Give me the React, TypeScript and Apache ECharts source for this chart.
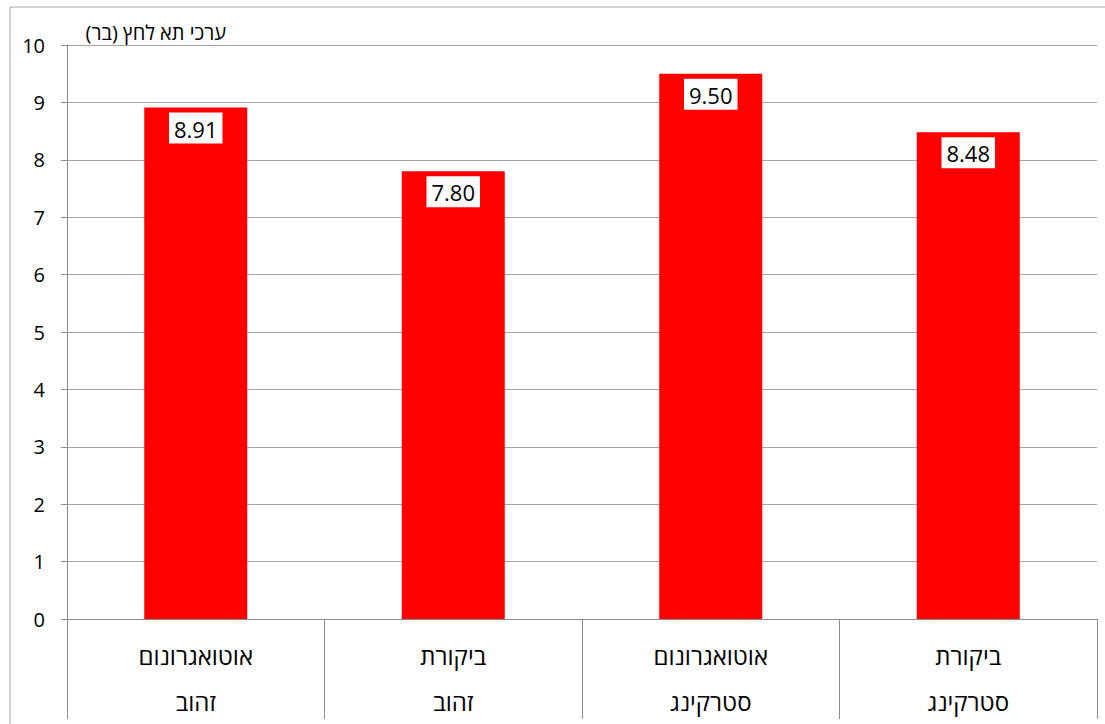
import React, { useEffect, useRef } from "react";
import * as echarts from "echarts";

const categories = [
  "אוטואגרונום\nזהוב",
  "ביקורת\nזהוב",
  "אוטואגרונום\nסטרקינג",
  "ביקורת\nסטרקינג",
];
const values = [8.91, 7.8, 9.5, 8.48];
const yAxisTitle = "ערכי תא לחץ (בר)";

export default function App() {
  const ref = useRef<HTMLDivElement>(null);
  useEffect(() => {
    if (!ref.current) return;
    const chart = echarts.init(ref.current, null, {
      renderer: "svg",
      width: 1105,
      height: 724,
    });
    const font = "'Open Sans', Arial, sans-serif";
    chart.setOption({
      animation: false,
      backgroundColor: "#ffffff",
      textStyle: { fontFamily: font },
      grid: { left: 67, top: 45, width: 1030, height: 579, containLabel: false },
      graphic: [
        {
          type: "rect",
          shape: { x: 10, y: 7, width: 1200, height: 800 },
          style: { fill: "none", stroke: "#a6a6a6", lineWidth: 1 },
          silent: true,
          z: -10,
        },
        {
          type: "text",
          x: 226,
          y: 32,
          style: {
            text: yAxisTitle,
            fill: "#000",
            font: `20px ${font}`,
            textAlign: "right",
            textVerticalAlign: "middle",
          },
        },
      ],
      xAxis: {
        type: "category",
        data: categories,
        axisLine: { show: true, lineStyle: { color: "#8c8c8c", width: 1 } },
        axisTick: { show: true, length: 100, lineStyle: { color: "#8c8c8c" } },
        axisLabel: {
          color: "#000",
          fontSize: 24,
          lineHeight: 46,
          margin: 13,
          fontFamily: font,
        },
        splitLine: { show: false },
      },
      yAxis: {
        type: "value",
        min: 0,
        max: 10,
        interval: 1,
        axisLine: { show: true, lineStyle: { color: "#8c8c8c", width: 1 } },
        axisTick: { show: true, length: 6, lineStyle: { color: "#8c8c8c" } },
        axisLabel: { color: "#000", fontSize: 20, margin: 22, fontFamily: font },
        splitLine: { show: true, lineStyle: { color: "#a6a6a6", width: 1 } },
      },
      series: [
        {
          type: "bar",
          data: values,
          barWidth: "40%",
          itemStyle: { color: "#ff0000" },
          label: {
            show: true,
            position: "insideTop",
            distance: 5,
            backgroundColor: "#ffffff",
            padding: [5, 5, 4, 5],
            color: "#000",
            fontSize: 22,
            fontFamily: font,
            formatter: (p: any) => Number(p.value).toFixed(2),
          },
        },
      ],
    });
    return () => chart.dispose();
  }, []);
  return (
    <div
      ref={ref}
      style={{ position: "fixed", left: 0, top: 0, width: 1105, height: 724 }}
    />
  );
}
